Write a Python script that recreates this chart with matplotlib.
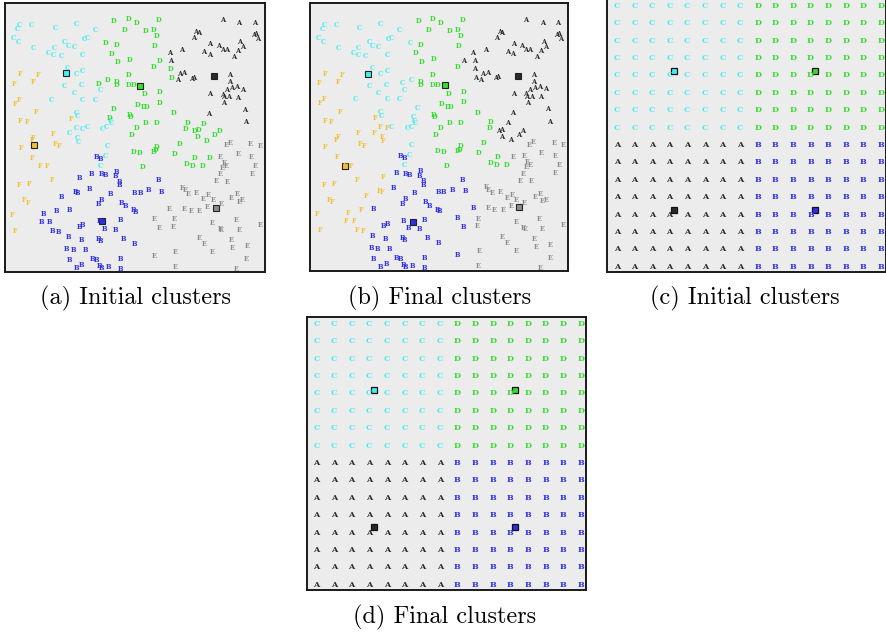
import matplotlib
matplotlib.use("Agg")
import matplotlib.pyplot as plt

# cluster colours
colors = {
    "A": "#2a2a2a",
    "B": "#2f2fe8",
    "C": "#44eef2",
    "D": "#38dc30",
    "E": "#8c8c8c",
    "F": "#f2c030",
}

# ---- scattered data set, grouped by initial cluster ----
# final labels are given in blocks of ten
A_x = [667, 717, 765, 588, 595, 580, 545, 630, 655, 668,
       680, 720, 728, 713, 700, 612, 628, 508, 512, 538,
       552, 575, 582, 532, 690, 690, 695, 710, 728, 680,
       668, 670, 685, 713, 630, 672, 734, 627, 738, 768,
       762, 772]
A_y = [60, 67, 68, 95, 97, 112, 150, 130, 138, 150,
       150, 125, 140, 152, 170, 155, 163, 158, 182, 222,
       218, 235, 232, 240, 225, 245, 263, 260, 268, 270,
       283, 290, 290, 292, 282, 308, 328, 340, 365, 100,
       105, 115]
A_fin = ("AAAAAAAAAA" "AAAAAAAAAA" "AAAAAAAAAA" "AAAAAAAAAA" "AA")

B_x = [290, 302, 237, 275, 305, 315, 350, 345, 357, 357,
       475, 225, 232, 268, 185, 330, 305, 295, 365, 375,
       403, 420, 445, 485, 400, 407, 130, 170, 207, 125,
       148, 158, 175, 237, 248, 297, 312, 345, 360, 205,
       243, 295, 302, 370, 402, 200, 220, 255, 277, 290,
       207, 228, 245, 297, 305, 325, 362, 362]
B_y = [470, 475, 532, 520, 522, 525, 515, 528, 545, 555,
       540, 575, 578, 565, 590, 580, 598, 612, 608, 618,
       578, 578, 570, 575, 630, 635, 640, 632, 628, 665,
       665, 693, 695, 680, 673, 663, 685, 690, 660, 710,
       718, 715, 722, 717, 730, 745, 750, 750, 777, 780,
       778, 802, 795, 797, 803, 800, 775, 805]
B_fin = ("BBFBBBBBBB" "BFFBFBBBBB" "BBBBBBFFBF" "FFFBBBBBBB"
         "BBBBBBBBBB" "BBBBBBBB")

C_x = [57, 52, 95, 40, 55, 100, 165, 228, 285, 193,
       205, 222, 162, 145, 160, 183, 252, 262, 248, 203,
       228, 248, 193, 222, 245, 300, 153, 248, 285, 228,
       232, 208, 228, 248, 262, 232, 235, 308, 320, 335,
       322, 315, 300, 332]
C_y = [75, 85, 73, 113, 125, 143, 82, 72, 90, 125,
       138, 140, 143, 158, 165, 167, 117, 113, 165, 203,
       222, 213, 258, 278, 255, 270, 298, 298, 298, 337,
       347, 398, 382, 385, 380, 413, 425, 385, 380, 368,
       436, 466, 497, 362]
C_fin = ("CCCCCCCCCC" "CCCCCCCCCC" "CCCCCCCCCC" "CFFFCFFCCC" "CCCC")

D_x = [342, 387, 410, 475, 373, 437, 462, 470, 318, 350,
       465, 335, 352, 390, 462, 480, 512, 515, 387, 295,
       322, 350, 350, 387, 400, 435, 478, 340, 412, 432,
       440, 478, 522, 328, 388, 392, 410, 437, 470, 395,
       562, 585, 595, 612, 558, 593, 658, 645, 540, 620,
       470, 468, 462, 400, 418, 525, 583, 630, 560, 578,
       608, 428]
D_y = [63, 57, 67, 60, 90, 93, 90, 107, 128, 133,
       137, 160, 186, 178, 200, 182, 207, 233, 225, 250,
       240, 245, 255, 255, 255, 282, 275, 325, 313, 320,
       320, 307, 338, 352, 345, 350, 383, 368, 368, 405,
       367, 392, 390, 370, 385, 410, 393, 405, 430, 422,
       440, 450, 455, 455, 458, 460, 472, 472, 490, 497,
       497, 500]
D_fin = ("DDDDDDDDCD" "DDDDDAAADC" "CDDDDDDCDD" "DDDCDDDDDD"
         "DAAADAAADA" "DDDDDDDEDD" "DD")

E_x = [678, 690, 752, 780, 662, 672, 680, 668, 715, 755,
       767, 650, 683, 660, 757, 548, 555, 565, 590, 610,
       625, 640, 663, 695, 712, 718, 728, 508, 553, 573,
       598, 622, 462, 478, 524, 520, 638, 660, 665, 708,
       718, 782, 597, 612, 693, 698, 742, 527, 462, 525,
       638, 740, 710]
E_y = [435, 428, 430, 437, 470, 488, 497, 503, 460, 470,
       497, 543, 545, 522, 520, 562, 570, 580, 578, 595,
       585, 600, 610, 592, 582, 605, 600, 625, 625, 632,
       632, 620, 655, 683, 657, 680, 668, 686, 690, 658,
       690, 675, 712, 730, 718, 742, 738, 756, 766, 800,
       755, 775, 805]
E_fin = ("EEEEEEEEEE" "EEEEEEEEEE" "EEEEEEEBEE" "EEBBEEEEEE"
         "EEEEEEEEBE" "EEE")

F_x = [60, 113, 100, 42, 57, 45, 107, 60, 80, 212,
       160, 100, 95, 165, 178, 62, 97, 120, 140, 157,
       58, 88, 72, 83, 35, 45]
F_y = [222, 225, 245, 250, 298, 310, 336, 362, 365, 355,
       400, 413, 420, 432, 438, 443, 472, 498, 498, 540,
       555, 552, 600, 607, 643, 693]
F_fin = ("FFFFFFFFFF" "FFFFFFFFFF" "FFFFFF")

groups = [("A", A_x, A_y, A_fin), ("B", B_x, B_y, B_fin),
          ("C", C_x, C_y, C_fin), ("D", D_x, D_y, D_fin),
          ("E", E_x, E_y, E_fin), ("F", F_x, F_y, F_fin)]

# cluster centres
cent_init = {"A": (642, 227), "B": (305, 663), "C": (198, 219),
             "D": (421, 257), "E": (648, 622), "F": (103, 434)}
cent_final = {"A": (644, 228), "B": (325, 666), "C": (190, 223),
              "D": (424, 255), "E": (647, 623), "F": (120, 498)}

# ---- regular 16x16 grid ----
grid_n = 16
quadrants = [["A", "B"], ["C", "D"]]   # [bottom row][column half]
grid_cent_init = {"A": (3.27, 3.27), "B": (11.25, 3.27),
                  "C": (3.25, 11.23), "D": (11.25, 11.23)}
grid_cent_final = {"A": (3.27, 3.3), "B": (11.25, 3.3),
                   "C": (3.25, 11.2), "D": (11.25, 11.2)}

captions = ["(a) Initial clusters", "(b) Final clusters",
            "(c) Initial clusters", "(d) Final clusters"]

W, H = 886, 635
fig = plt.figure(figsize=(W / 100, H / 100), dpi=100)


def make_ax(x0, y0, x1, y1):
    ax = fig.add_axes([x0 / W, 1 - y1 / H, (x1 - x0) / W, (y1 - y0) / H])
    ax.set_facecolor("#ececec")
    ax.set_xticks([])
    ax.set_yticks([])
    for s in ax.spines.values():
        s.set_linewidth(1.4)
        s.set_color("#1a1a1a")
    return ax


def scatter_panel(ax, final):
    for lab, xs, ys, fin in groups:
        for i in range(len(xs)):
            k = fin[i] if final else lab
            ax.text(xs[i], ys[i], k, color=colors[k], fontsize=4.8,
                    fontweight="bold", family="DejaVu Serif",
                    ha="center", va="center")
    cents = cent_final if final else cent_init
    for k, (cx, cy) in cents.items():
        ax.plot(cx, cy, "s", ms=3.8, mfc=colors[k], mec="#222222", mew=0.8)
    ax.set_xlim(15, 795)
    ax.set_ylim(815, 8)


def grid_panel(ax, final):
    for r in range(grid_n):
        for c in range(grid_n):
            k = quadrants[r // 8][c // 8]
            ax.text(c, r, k, color=colors[k], fontsize=5.8,
                    fontweight="bold", family="DejaVu Serif",
                    ha="center", va="center")
    cents = grid_cent_final if final else grid_cent_init
    for k, (cx, cy) in cents.items():
        ax.plot(cx, cy, "s", ms=4.2, mfc=colors[k], mec="#111111", mew=0.9)
    ax.set_xlim(-0.55, 15.28)
    ax.set_ylim(-0.3, 15.38)


ax_a = make_ax(5, 3, 265, 272)
scatter_panel(ax_a, False)
ax_b = make_ax(310, 3, 568, 271)
scatter_panel(ax_b, True)
ax_c = make_ax(607, -0.7, 886, 272)
grid_panel(ax_c, False)
ax_d = make_ax(306.7, 317.3, 585.7, 590)
grid_panel(ax_d, True)

cap_pos = [(135, 298), (440, 298), (745, 298), (445, 617)]
for (cx, cy), txt in zip(cap_pos, captions):
    fig.text(cx / W, 1 - cy / H, txt, family="cmr10", fontsize=17.5,
             ha="center", va="center")

fig.savefig("out.png", dpi=100)
